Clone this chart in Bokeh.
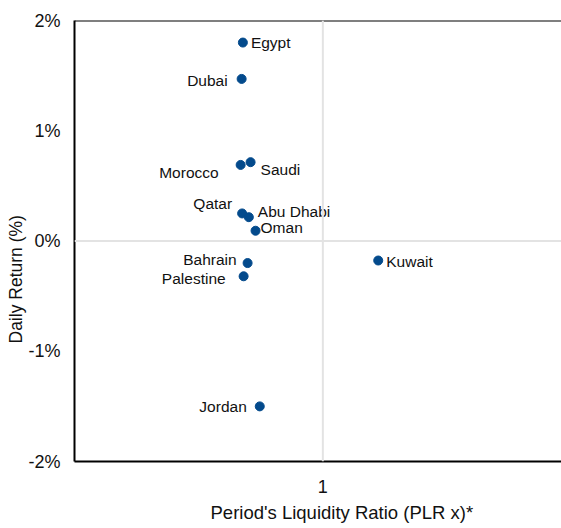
from bokeh.plotting import figure
from bokeh.models import (ColumnDataSource, Span, FixedTicker, PrintfTickFormatter,
                          Title, Range1d)
from bokeh.core.properties import value
from bokeh.embed import file_html
from bokeh.resources import INLINE

# ---- data ----
markets = ["Egypt", "Dubai", "Morocco", "Saudi", "Qatar", "Abu Dhabi", "Oman",
           "Bahrain", "Palestine", "Kuwait", "Jordan"]
plr = [0.678, 0.673, 0.669, 0.709, 0.675, 0.702, 0.729, 0.697, 0.681, 1.223, 0.746]
daily_return = [1.80, 1.47, 0.69, 0.715, 0.25, 0.216, 0.093, -0.20, -0.32, -0.177, -1.50]
y_ticks = [-2, -1, 0, 1, 2]
x_ticks = [1]

# ---- label placement (screen px) ----
label_align = ["left", "right", "right", "left", "right", "left", "left",
               "right", "right", "left", "right"]
label_dx = [8, -14, -22, 10, -10, 9, 5, -11, -18, 8, -13]
label_dy = [0, 2, 8, 7, -10, -6, -3, -4, 2, 1, 0]

FONT = "Liberation Sans"
DOT = "#034a8c"
TXT = "#111111"

src = ColumnDataSource(dict(x=plr, y=daily_return, name=markets,
                            align=label_align, dx=label_dx, dy=label_dy))

p = figure(width=561, height=528, output_backend="svg", toolbar_location=None,
           x_range=Range1d(0, 1.961), y_range=Range1d(-2, 2),
           min_border_left=74, min_border_right=0, min_border_top=20,
           min_border_bottom=67)
p.outline_line_color = None
p.xgrid.visible = False
p.ygrid.visible = False
p.background_fill_color = "white"
p.border_fill_color = "white"

for ax in (p.xaxis[0], p.yaxis[0]):
    ax.axis_line_color = "black"
    ax.axis_line_width = 2
    ax.major_tick_line_color = None
    ax.minor_tick_line_color = None
    ax.major_tick_out = 0
    ax.minor_tick_out = 0
    ax.major_label_text_font = FONT
    ax.major_label_text_font_size = "18px"
    ax.major_label_text_color = TXT

p.yaxis.ticker = FixedTicker(ticks=y_ticks)
p.yaxis.formatter = PrintfTickFormatter(format="%d%%")
p.yaxis.major_label_standoff = 14
p.xaxis.ticker = FixedTicker(ticks=x_ticks)
p.xaxis.major_label_standoff = 18

# top border and reference lines
p.add_layout(Span(location=2, dimension="width", line_color="black", line_width=2))
p.add_layout(Span(location=1, dimension="height", line_color="#e3e3e3", line_width=2))
p.add_layout(Span(location=0, dimension="width", line_color="#e3e3e3", line_width=2))

p.scatter("x", "y", source=src, size=9, fill_color=DOT, line_color=DOT)
p.text("x", "y", text="name", source=src, x_offset="dx", y_offset="dy",
       text_align="align", text_baseline="middle",
       text_font=value(FONT), text_font_size="15.5px", text_color=TXT)

p.add_layout(Title(text="Period's Liquidity Ratio (PLR x)*", align="left", offset=136,
                   standoff=8, text_font=FONT, text_font_size="18.5px",
                   text_font_style="normal", text_color=TXT), "below")
p.add_layout(Title(text="Daily Return (%)", align="left", offset=118, standoff=0,
                   text_font=FONT, text_font_size="17.5px", text_font_style="normal",
                   text_color=TXT), "left")

open("out.html", "w").write(file_html(p, INLINE))
